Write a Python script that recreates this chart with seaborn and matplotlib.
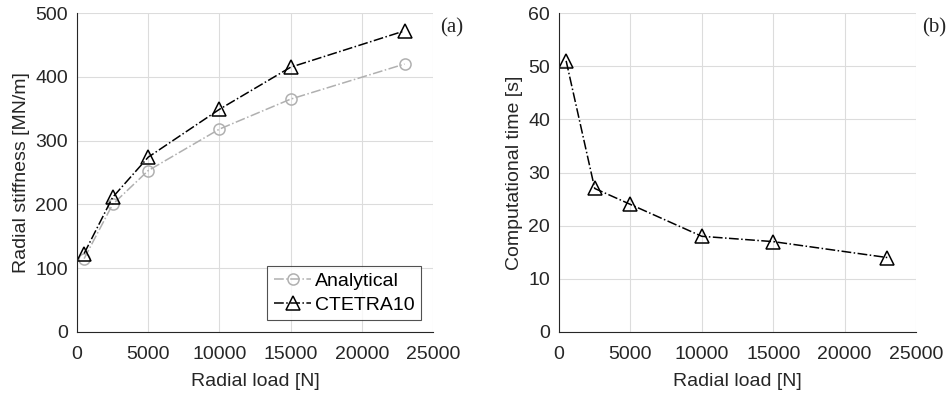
import numpy as np
import pandas as pd
import matplotlib
matplotlib.use("Agg")
import matplotlib.pyplot as plt
import seaborn as sns

radial_load = [500, 2500, 5000, 10000, 15000, 23000]
stiff_analytical = [115, 200, 253, 318, 365, 420]
stiff_ctetra10 = [123, 211, 274, 349, 415, 472]
comp_time = [51, 27, 24, 18, 17, 14]

sns.set_theme(style="whitegrid")
plt.rcParams['font.family'] = ['Liberation Sans', 'DejaVu Sans']
FS = 14
plt.rcParams['font.size'] = FS

text_col = '#262626'
fig = plt.figure(figsize=(9.5, 3.96), dpi=100)
ax1 = fig.add_axes([77/950, 1-332/396, (433-77)/950, (332-13)/396])
ax2 = fig.add_axes([559/950, 1-332/396, (916-559)/950, (332-13)/396])

df_a = pd.DataFrame({'x': radial_load, 'y': stiff_analytical})
df_c = pd.DataFrame({'x': radial_load, 'y': stiff_ctetra10})
df_t = pd.DataFrame({'x': radial_load, 'y': comp_time})

sns.lineplot(data=df_a, x='x', y='y', ax=ax1, color='#b0b0b0', linestyle='-.', lw=1.1,
             marker='o', markersize=8, markerfacecolor='none', markeredgecolor='#b0b0b0',
             markeredgewidth=1.1, label='Analytical')
sns.lineplot(data=df_c, x='x', y='y', ax=ax1, color='black', linestyle='-.', lw=1.1,
             marker='^', markersize=10, markerfacecolor='none', markeredgecolor='black',
             markeredgewidth=1.1, label='CTETRA10')
sns.lineplot(data=df_t, x='x', y='y', ax=ax2, color='black', linestyle='-.', lw=1.1,
             marker='^', markersize=10, markerfacecolor='none', markeredgecolor='black',
             markeredgewidth=1.1)

for ax, ylim, yt, ylab in [(ax1, (0, 500), range(0, 501, 100), 'Radial stiffness [MN/m]'),
                           (ax2, (0, 60), range(0, 61, 10), 'Computational time [s]')]:
    ax.set_xlim(0, 25000)
    ax.set_ylim(*ylim)
    ax.set_xticks(range(0, 25001, 5000))
    ax.set_yticks(list(yt))
    ax.set_xlabel('Radial load [N]', fontsize=FS, color=text_col, labelpad=7)
    ax.set_ylabel(ylab, fontsize=FS, color=text_col, labelpad=4)
    ax.tick_params(axis='both', direction='in', length=4, width=0.8, color='#262626',
                   labelsize=FS, labelcolor=text_col)
    ax.tick_params(axis='x', pad=10)
    ax.tick_params(axis='y', pad=6.5)
    ax.grid(True, color='#dcdcdc', lw=0.8)
    ax.set_facecolor('white')
    for s in ['top', 'right']:
        ax.spines[s].set_visible(False)
    for s in ['left', 'bottom']:
        ax.spines[s].set_visible(True)
        ax.spines[s].set_color('#262626')
        ax.spines[s].set_linewidth(0.8)
    ax.set_axisbelow(True)

leg = ax1.legend(loc='lower right', fontsize=FS, frameon=True, fancybox=False,
                 edgecolor='#262626', handlelength=1.9, handletextpad=0.2,
                 borderpad=0.35, labelspacing=0.3, borderaxespad=0.6)
leg.get_frame().set_linewidth(0.8)
for t in leg.get_texts():
    t.set_color('black')

fig.text(440/950, 1-28/396, '(a)', family='Liberation Serif', fontsize=15, va='center', ha='left')
fig.text(922/950, 1-28/396, '(b)', family='Liberation Serif', fontsize=15, va='center', ha='left')

fig.savefig('out.png', dpi=100, facecolor='white')
